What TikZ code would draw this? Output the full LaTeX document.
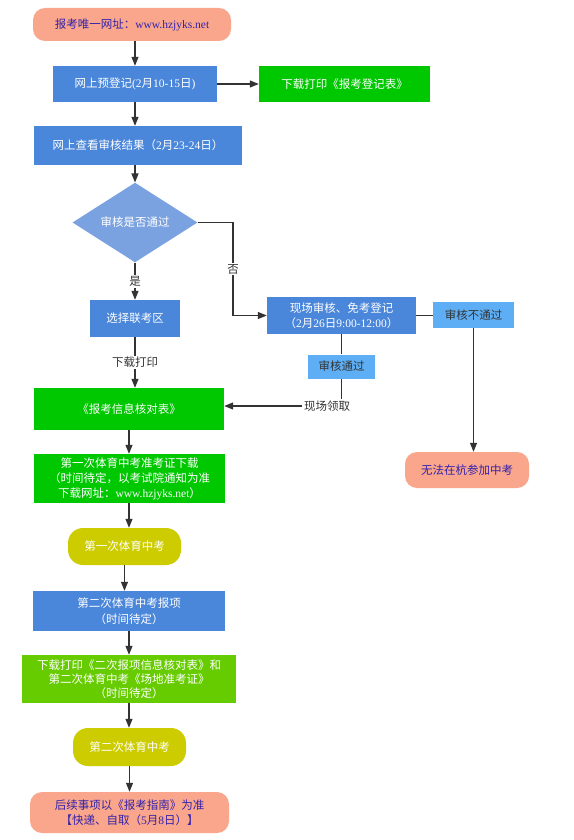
\documentclass[tikz,border=0pt]{standalone}
\usepackage{fontspec}
\setmainfont{Noto Sans CJK SC}
\newfontfamily\latfont{Liberation Serif}
\newcommand{\Lx}[1]{{\latfont #1}}
\usetikzlibrary{shapes.geometric,arrows.meta,calc}
\definecolor{cblue}{HTML}{4A86DA}
\definecolor{cdia}{HTML}{7BA2E0}
\definecolor{clight}{HTML}{5DAEF5}
\definecolor{cgreen}{HTML}{00C800}
\definecolor{cyg}{HTML}{66CC00}
\definecolor{colive}{HTML}{CCCC00}
\definecolor{csalmon}{HTML}{F9A68C}
\definecolor{cpurple}{HTML}{3322AA}
\definecolor{cline}{HTML}{333333}
\definecolor{ctext}{HTML}{333333}
\tikzset{
  box/.style={inner sep=0pt, align=center, text=white, font=\fontsize{11.5}{15.5}\selectfont},
  bluebox/.style={box, fill=cblue},
  greenbox/.style={box, fill=cgreen},
  ygbox/.style={box, fill=cyg},
  olivebox/.style={box, fill=colive, rounded corners=15pt},
  lightbox/.style={box, fill=clight, text=ctext},
  salmonbox/.style={box, fill=csalmon, text=cpurple, rounded corners=12pt},
  lbl/.style={fill=white, inner sep=1.5pt, text=ctext, font=\fontsize{11.5}{14}\selectfont},
  ln/.style={draw=cline, line width=1.1pt},
  arr/.style={ln, -{Triangle[length=9pt,width=7pt]}}
}
\begin{document}
\begin{tikzpicture}[x=1pt,y=-1pt]
\useasboundingbox[fill=white] (0,0) rectangle (573,840);

\node[salmonbox, minimum width=198pt, minimum height=33pt] (start) at (132,24.5) {报考唯一网址：\Lx{www.hzjyks.net}};
\node[bluebox, minimum width=164pt, minimum height=36pt] (pre) at (135,84) {网上预登记\Lx{(2}月\Lx{10-15}日\Lx{)}};
\node[greenbox, minimum width=171pt, minimum height=36pt] (dl) at (344.5,84) {下载打印《报考登记表》};
\node[bluebox, minimum width=208pt, minimum height=39pt] (check) at (138,145.5) {网上查看审核结果（\Lx{2}月\Lx{23-24}日）};
\node[diamond, fill=cdia, text=white, inner sep=0pt, minimum width=125pt, minimum height=59pt, font=\fontsize{11.5}{14}\selectfont] (dia) at (135,222.5) {审核是否通过};
\node[bluebox, minimum width=90pt, minimum height=37pt] (choose) at (135,318.5) {选择联考区};
\node[bluebox, minimum width=149pt, minimum height=37pt] (onsite) at (341.5,315.5) {现场审核、免考登记\\（\Lx{2}月\Lx{26}日\Lx{9:00-12:00}）};
\node[lightbox, minimum width=81pt, minimum height=26pt] (fail) at (473.5,315) {审核不通过};
\node[lightbox, minimum width=67pt, minimum height=24pt] (pass) at (341.5,366.5) {审核通过};
\node[greenbox, minimum width=190pt, minimum height=42pt] (form) at (129,409) {《报考信息核对表》};
\node[salmonbox, minimum width=124pt, minimum height=36pt] (noexam) at (467,470) {无法在杭参加中考};
\node[greenbox, minimum width=191pt, minimum height=49pt, font=\fontsize{11.5}{15}\selectfont] (first) at (129.5,478.5) {第一次体育中考准考证下载\\（时间待定，以考试院通知为准\\下载网址：\Lx{www.hzjyks.net}）};
\node[olivebox, minimum width=113pt, minimum height=37pt] (firstexam) at (124.5,546.5) {第一次体育中考};
\node[bluebox, minimum width=192pt, minimum height=40pt] (second) at (129,611) {第二次体育中考报项\\（时间待定）};
\node[ygbox, minimum width=214pt, minimum height=48pt, font=\fontsize{11.5}{13.8}\selectfont] (dl2) at (129,679) {下载打印《二次报项信息核对表》和\\第二次体育中考《场地准考证》\\（时间待定）};
\node[olivebox, minimum width=113pt, minimum height=38pt] (secondexam) at (129.5,747) {第二次体育中考};
\node[salmonbox, minimum width=199pt, minimum height=41pt, font=\fontsize{11.5}{15}\selectfont] (final) at (129.5,812.5) {后续事项以《报考指南》为准\\【快递、自取（\Lx{5}月\Lx{8}日）】};

% connectors
\draw[arr] (pre.north |- start.south) -- (pre.north);
\draw[arr] (pre.east) -- (dl.west);
\draw[arr] (pre.south) -- (pre.south |- check.north);
\draw[arr] (check.south -| dia.north) -- (dia.north);
\draw[arr] (dia.south) -- node[lbl] (yes) {是} (choose.north);
\coordinate (nc) at (233,222.5);
\draw[arr] (dia.east) -- (nc) -- node[lbl] (no) {否} (nc |- onsite.west) -- (onsite.west);
\draw[arr] (choose.south) -- node[lbl] (dlp) {下载打印} (choose.south |- form.north);
\draw[ln] (onsite.south) -- (pass.north);
\draw[ln] (onsite.east) -- (onsite.east -| fail.west);
\node[lbl, fill=none] (take) at (327,406) {现场领取};
\draw[ln] (pass.south) -- (pass.south |- take.north);
\draw[arr] (take.west) -- (take.west -| form.east);
\draw[arr] (fail.south) -- (fail.south |- noexam.north);
\draw[arr] (form.south) -- (form.south |- first.north);
\draw[arr] (first.south -| form.south) -- (firstexam.north -| form.south);
\draw[arr] (firstexam.south) -- (firstexam.south |- second.north);
\draw[arr] (second.south) -- (second.south |- dl2.north);
\draw[arr] (dl2.south) -- (dl2.south |- secondexam.north);
\draw[arr] (secondexam.south) -- (secondexam.south |- final.north);
\end{tikzpicture}
\end{document}
